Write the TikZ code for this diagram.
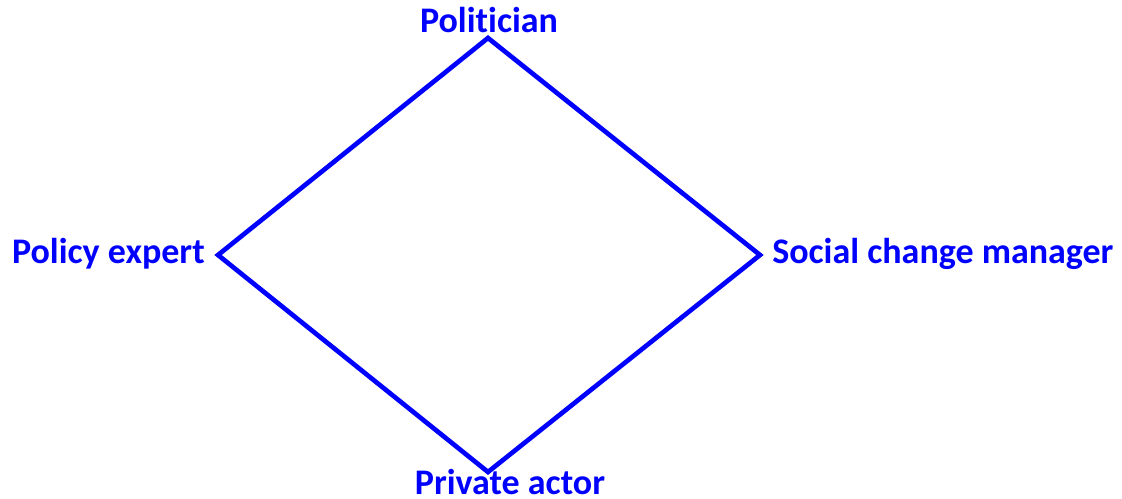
\documentclass[tikz,border=0pt]{standalone}
\usepackage{fontspec}
\setmainfont{Carlito}[Ligatures=CommonOff]
\definecolor{RoleBlue}{RGB}{0,0,255}
\usetikzlibrary{positioning}

\begin{document}
\begin{tikzpicture}[x=0.75pt,y=-0.75pt]
\useasboundingbox (0,0) rectangle (1122,499);
\tikzset{role/.style={text=RoleBlue,font=\fontsize{27}{32}\selectfont\bfseries,inner sep=0pt}}
\coordinate (top) at (488,38);
\coordinate (right) at (760,255);
\coordinate (bottom) at (488,472);
\coordinate (left) at (218,255);
\draw[RoleBlue,line width=3.5pt,line join=miter] (top) -- (right) -- (bottom) -- (left) -- cycle;
\node[role,anchor=base] (politician) at (489,33) {Politician};
\node[role,anchor=base east] (expert) at (205,264) {Policy expert};
\node[role,anchor=base west] (manager) at (772,264) {Social change manager};
\node[role,anchor=base] (private) at (510,494) {Private actor};
\end{tikzpicture}
\end{document}
